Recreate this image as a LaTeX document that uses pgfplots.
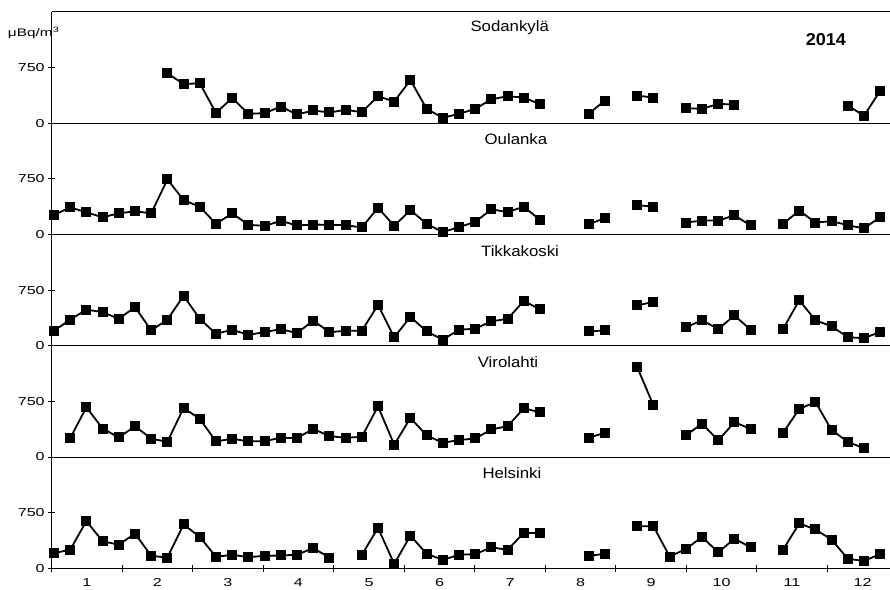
\documentclass[border=0pt]{standalone}
\usepackage{fontspec}
\setmainfont{Liberation Sans}
\newfontfamily\tickfont{Liberation Sans}[FakeStretch=1.4]
\newfontfamily\namefont{Liberation Sans}[FakeStretch=1.12]
\newfontfamily\yearfont{Liberation Sans}[FakeStretch=1.05]
\usepackage{pgfplots}
\usepackage{pgfplotstable}
\pgfplotsset{compat=1.18}

\pgfplotstableread{
w S O T V H
1 nan 262 201 nan 205
2 nan 364 352 254 250
3 nan 297 485 670 636
4 nan 231 453 384 364
5 nan 284 361 263 318
6 nan 311 521 415 468
7 nan 284 206 246 168
8 670 741 352 205 145
9 527 462 672 661 591
10 536 373 361 513 423
11 138 142 160 210 155
12 339 284 215 246 182
13 125 129 146 210 150
14 134 115 183 214 168
15 223 182 224 259 173
16 116 120 169 254 182
17 170 133 338 379 273
18 143 129 183 281 145
19 179 124 201 259 nan
20 147 93 201 272 182
21 362 359 549 683 545
22 290 115 114 165 59
23 580 328 389 527 441
24 192 142 192 290 195
25 71 31 82 192 114
26 125 98 215 228 182
27 192 169 229 250 191
28 321 337 329 371 282
29 362 302 361 415 250
30 344 373 604 656 477
31 254 195 489 603 477
32 nan nan nan nan nan
33 nan nan nan nan nan
34 125 138 192 259 168
35 304 217 206 326 195
36 nan nan nan nan nan
37 371 395 544 1210 568
38 344 373 590 696 568
39 nan nan nan nan 159
40 201 160 247 290 259
41 192 186 343 451 423
42 259 186 224 223 214
43 250 257 407 469 400
44 nan 120 215 379 282
45 nan nan nan nan nan
46 nan 142 224 326 250
47 nan 320 613 647 605
48 nan 160 343 741 523
49 nan 178 261 362 386
50 237 124 114 205 127
51 98 80 101 116 100
52 437 235 187 nan 191
}\data

\pgfplotsset{
  panel/.style={
    scale only axis, width=841.5pt, height=111.3pt,
    xmin=0.858, xmax=52.8, ymin=0, ymax=1500,
    axis x line=box, axis y line=left, axis line style={-, line width=0.8pt, black},
    clip=false, unbounded coords=jump,
    /pgf/number format/assume math mode=true,
    ytick={0,750}, yticklabel style={font=\fontsize{11.5}{13}\tickfont},
    tick align=center, major tick length=7pt,
    every tick/.style={black, line width=0.8pt},
    xtick=\empty,
  },
  series/.style={black, line width=1.8pt, mark=square*, mark size=4.1pt, mark options={solid}},
}

\begin{document}
\begin{tikzpicture}
\useasboundingbox (-51.7pt,-20.7pt) rectangle (838.3pt,568.3pt);

% Sodankyla
\begin{axis}[panel, at={(0,445.2pt)}, anchor=south west]
\addplot[series] table[x=w, y=S] {\data};
\node[font=\fontsize{15}{18}\namefont, yshift=-16.3pt] at (rel axis cs:0.5443,1) {Sodankylä};
\node[font=\fontsize{17.2}{20}\yearfont\bfseries, yshift=-27.8pt] at (rel axis cs:0.920,1) {2014};
\node[anchor=west, inner sep=0pt, font=\fontsize{11}{12}\tickfont, xshift=-43.9pt, yshift=-21pt] at (rel axis cs:0,1) {μBq/m\textsuperscript{3}};
\end{axis}

% Oulanka
\begin{axis}[panel, at={(0,333.9pt)}, anchor=south west]
\addplot[series] table[x=w, y=O] {\data};
\node[font=\fontsize{15}{18}\namefont, yshift=-16.3pt] at (rel axis cs:0.5517,1) {Oulanka};
\end{axis}

% Tikkakoski
\begin{axis}[panel, at={(0,222.6pt)}, anchor=south west]
\addplot[series] table[x=w, y=T] {\data};
\node[font=\fontsize{15}{18}\namefont, yshift=-16.3pt] at (rel axis cs:0.5565,1) {Tikkakoski};
\end{axis}

% Virolahti
\begin{axis}[panel, at={(0,111.3pt)}, anchor=south west]
\addplot[series] table[x=w, y=V] {\data};
\node[font=\fontsize{15}{18}\namefont, yshift=-16.3pt] at (rel axis cs:0.5422,1) {Virolahti};
\end{axis}

% Helsinki
\begin{axis}[panel, at={(0,0pt)}, anchor=south west,
  xtick={0.858,5.21,9.562,13.914,18.266,22.618,26.97,31.322,35.674,40.026,44.378,48.73},
  xticklabels={}, xtick pos=bottom,
  extra x ticks={3.034,7.386,11.738,16.09,20.442,24.794,29.146,33.498,37.85,42.202,46.554,50.906},
  extra x tick labels={1,2,3,4,5,6,7,8,9,10,11,12},
  extra x tick style={major tick length=0pt, xticklabel style={font=\fontsize{11.5}{13}\tickfont, yshift=-7pt}},
]
\addplot[series] table[x=w, y=H] {\data};
\node[font=\fontsize{15}{18}\namefont, yshift=-16.3pt] at (rel axis cs:0.5469,1) {Helsinki};
\end{axis}
\end{tikzpicture}
\end{document}
